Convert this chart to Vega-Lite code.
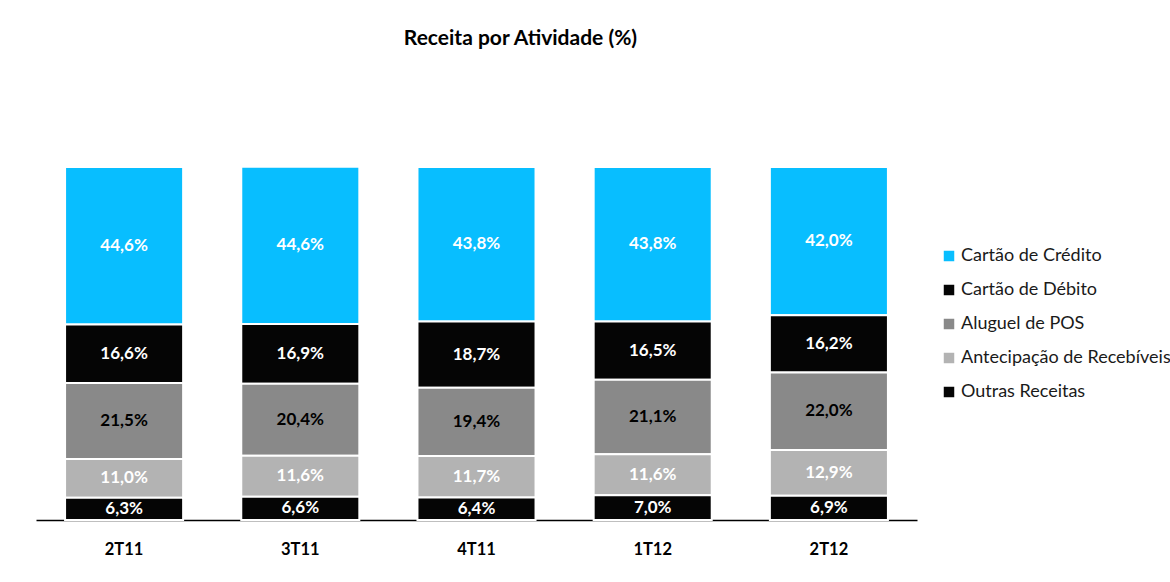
{
  "$schema": "https://vega.github.io/schema/vega-lite/v6.json",
  "autosize": "none",
  "width": 881,
  "height": 353,
  "padding": {"left": 36, "top": 167, "right": 253, "bottom": 62},
  "background": "white",
  "title": {
    "text": "Receita por Atividade (%)",
    "font": "Lato",
    "fontSize": 21,
    "fontWeight": "bold",
    "color": "#000000",
    "anchor": "middle",
    "dx": 44,
    "baseline": "bottom",
    "offset": 96
  },
  "data": {
    "values": [
      {"q": "2T11", "serie": "Cartão de Crédito", "v": 44.6},
      {"q": "2T11", "serie": "Cartão de Débito", "v": 16.6},
      {"q": "2T11", "serie": "Aluguel de POS", "v": 21.5},
      {"q": "2T11", "serie": "Antecipação de Recebíveis", "v": 11.0},
      {"q": "2T11", "serie": "Outras Receitas", "v": 6.3},
      {"q": "3T11", "serie": "Cartão de Crédito", "v": 44.6},
      {"q": "3T11", "serie": "Cartão de Débito", "v": 16.9},
      {"q": "3T11", "serie": "Aluguel de POS", "v": 20.4},
      {"q": "3T11", "serie": "Antecipação de Recebíveis", "v": 11.6},
      {"q": "3T11", "serie": "Outras Receitas", "v": 6.6},
      {"q": "4T11", "serie": "Cartão de Crédito", "v": 43.8},
      {"q": "4T11", "serie": "Cartão de Débito", "v": 18.7},
      {"q": "4T11", "serie": "Aluguel de POS", "v": 19.4},
      {"q": "4T11", "serie": "Antecipação de Recebíveis", "v": 11.7},
      {"q": "4T11", "serie": "Outras Receitas", "v": 6.4},
      {"q": "1T12", "serie": "Cartão de Crédito", "v": 43.8},
      {"q": "1T12", "serie": "Cartão de Débito", "v": 16.5},
      {"q": "1T12", "serie": "Aluguel de POS", "v": 21.1},
      {"q": "1T12", "serie": "Antecipação de Recebíveis", "v": 11.6},
      {"q": "1T12", "serie": "Outras Receitas", "v": 7.0},
      {"q": "2T12", "serie": "Cartão de Crédito", "v": 42.0},
      {"q": "2T12", "serie": "Cartão de Débito", "v": 16.2},
      {"q": "2T12", "serie": "Aluguel de POS", "v": 22.0},
      {"q": "2T12", "serie": "Antecipação de Recebíveis", "v": 12.9},
      {"q": "2T12", "serie": "Outras Receitas", "v": 6.9}
    ]
  },
  "transform": [
    {"calculate": "indexof(['Outras Receitas','Antecipação de Recebíveis','Aluguel de POS','Cartão de Débito','Cartão de Crédito'], datum.serie)", "as": "ord"},
    {"calculate": "replace(format(datum.v, '.1f'), '.', ',') + '%'", "as": "lab"}
  ],
  "encoding": {
    "x": {
      "field": "q",
      "type": "nominal",
      "sort": ["2T11", "3T11", "4T11", "1T12", "2T12"],
      "scale": {"paddingInner": 0.33, "paddingOuter": 0.165},
      "axis": {
        "title": null,
        "labelAngle": 0,
        "labelFont": "Lato",
        "labelFontSize": 16.5,
        "labelFontWeight": "bold",
        "labelColor": "#000000",
        "labelPadding": 21,
        "ticks": false,
        "domainColor": "#000000",
        "domainWidth": 1.5,
        "grid": false
      }
    },
    "y": {
      "field": "v",
      "type": "quantitative",
      "stack": "zero",
      "scale": {"domain": [0, 100], "nice": false},
      "axis": null
    },
    "order": {"field": "ord", "type": "quantitative"}
  },
  "layer": [
    {
      "mark": {"type": "bar", "stroke": "white", "strokeWidth": 2},
      "encoding": {
        "color": {
          "field": "serie",
          "type": "nominal",
          "sort": ["Cartão de Crédito", "Cartão de Débito", "Aluguel de POS", "Antecipação de Recebíveis", "Outras Receitas"],
          "scale": {
            "domain": ["Cartão de Crédito", "Cartão de Débito", "Aluguel de POS", "Antecipação de Recebíveis", "Outras Receitas"],
            "range": ["#08BEFF", "#050505", "#898989", "#B3B3B3", "#050505"]
          },
          "legend": {
            "title": null,
            "orient": "none",
            "legendX": 904,
            "legendY": 80,
            "symbolType": "square",
            "symbolSize": 110,
            "symbolStrokeWidth": 0,
            "labelFont": "Lato",
            "labelFontSize": 18,
            "labelColor": "#1a1a1a",
            "labelOffset": 3,
            "rowPadding": 16,
            "labelLimit": 300
          }
        }
      }
    },
    {
      "mark": {"type": "text", "font": "Lato", "fontSize": 17, "fontWeight": "bold", "baseline": "middle"},
      "encoding": {
        "y": {"field": "v", "type": "quantitative", "stack": "zero", "bandPosition": 0.5},
        "detail": {"field": "serie", "type": "nominal"},
        "text": {"field": "lab", "type": "nominal"},
        "color": {
          "condition": {"test": "datum.serie === 'Aluguel de POS'", "value": "#000000"},
          "value": "#ffffff"
        }
      }
    }
  ],
  "config": {"view": {"stroke": null}}
}
